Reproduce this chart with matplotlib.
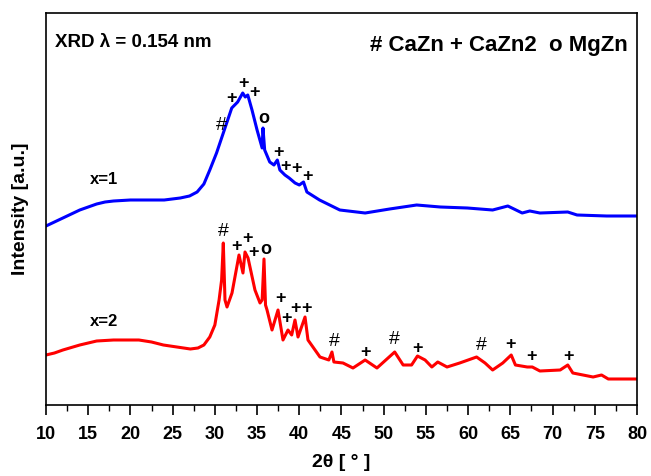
import matplotlib
matplotlib.use("Agg")
import matplotlib.pyplot as plt
from matplotlib.ticker import MultipleLocator
from matplotlib import font_manager

names = {f.name for f in font_manager.fontManager.ttflist}
narrow = 'Liberation Sans Narrow' if 'Liberation Sans Narrow' in names else 'Liberation Sans'

# 2theta (deg) and intensity (a.u.) for x=1 (blue)
theta1 = [10.0, 11.0, 12.0, 13.0, 14.0, 15.0, 16.0, 17.0, 18.0, 20.0, 22.0, 24.0, 25.9, 27.0,
          27.9, 28.7, 29.4, 30.2, 30.8, 31.4, 32.0, 32.7, 33.3, 33.6, 33.9, 34.4, 35.0, 35.6,
          35.7, 35.9, 36.5, 37.0, 37.4, 37.7, 38.3, 38.8, 39.5, 40.0, 40.5, 40.9, 42.4, 44.8,
          47.8, 50.7, 53.9, 56.7, 59.9, 62.9, 64.7, 66.4, 67.3, 68.5, 71.8, 72.9, 76.4, 80.0]
inten1 = [179, 183, 187, 191, 195, 198, 201, 203, 204, 205, 205, 205, 207, 209,
          213, 221, 235, 252, 267, 282, 297, 303, 312, 308, 310, 295, 275, 257,
          277, 255, 243, 240, 245, 235, 230, 227, 222, 220, 223, 213, 205, 195,
          192, 196, 200, 198, 197, 195, 199, 192, 194, 192, 193, 190, 189, 189]

# 2theta (deg) and intensity (a.u.) for x=2 (red)
theta2 = [10.0, 11.0, 12.0, 14.0, 16.0, 18.0, 19.6, 21.0, 22.5, 23.9, 25.5, 27.1, 28.0, 28.7,
          29.4, 30.0, 30.5, 30.8, 31.0, 31.2, 31.44, 32.03, 32.86, 33.33, 33.57, 33.93, 34.75,
          35.35, 35.6, 35.82, 36.0, 36.18, 36.77, 37.48, 38.07, 38.66, 39.1, 39.49, 39.85,
          40.68, 41.03, 42.45, 43.5, 43.87, 44.1, 45.18, 46.36, 47.8, 49.2, 51.3, 52.3, 53.3,
          54.0, 54.9, 55.7, 56.4, 57.5, 59.0, 61.0, 62.0, 62.9, 64.1, 65.1, 65.6, 67.0, 67.6,
          68.5, 70.9, 71.8, 72.4, 74.8, 75.8, 76.6, 80.0]
inten2 = [50, 52, 55, 60, 64, 65, 65, 65, 63, 60, 58, 56, 57, 60,
          68, 80, 105, 125, 162, 105, 98, 112, 150, 132, 153, 147, 115,
          102, 105, 146, 100, 95, 75, 95, 65, 75, 70, 85, 68,
          88, 65, 48, 45, 53, 43, 42, 37, 45, 37, 53, 40, 40,
          49, 45, 38, 43, 38, 42, 48, 42, 35, 42, 50, 40, 38, 38,
          34, 35, 40, 32, 28, 30, 26, 26]

# phase markers: (symbol, 2theta, height)
marks1 = [('#', 30.73, 280), ('+', 32.03, 307), ('+', 33.45, 322), ('+', 34.75, 313),
          ('o', 35.82, 287), ('+', 37.48, 252), ('+', 38.35, 238), ('+', 39.7, 237),
          ('+', 41.03, 228)]
marks2 = [('#', 30.96, 173), ('+', 32.62, 159), ('+', 33.81, 166), ('+', 34.52, 152),
          ('o', 36.06, 155), ('+', 37.72, 106), ('+', 38.45, 86), ('+', 39.6, 96),
          ('+', 40.85, 97), ('#', 44.11, 63), ('+', 47.9, 53), ('#', 51.22, 65),
          ('+', 54.06, 57), ('#', 61.52, 60), ('+', 65.07, 60), ('+', 67.56, 48),
          ('+', 71.83, 48)]

xticks = [10, 15, 20, 25, 30, 35, 40, 45, 50, 55, 60, 65, 70, 75, 80]

sym_style = {'+': dict(fontsize=13, fontweight='bold'),
             '#': dict(fontsize=14, fontweight='normal'),
             'o': dict(fontsize=13, fontweight='bold')}

fig = plt.figure(figsize=(6.51, 4.76), dpi=100)
ax = fig.add_axes([46/651, 1-405/476, 591/651, 392/476])

ax.plot(theta1, inten1, color='#0000ff', lw=2.2)
ax.plot(theta2, inten2, color='#ff0000', lw=2.2)

for sym, x, y in marks1 + marks2:
    ax.text(x, y, sym, ha='center', va='center', family='Liberation Sans', color='black',
            **sym_style[sym])

ax.text(16.87, 225, 'x=1', ha='center', va='center', fontsize=12, fontweight='bold',
        family='Liberation Sans')
ax.text(16.87, 83, 'x=2', ha='center', va='center', fontsize=12, fontweight='bold',
        family='Liberation Sans')

ax.text(0.015, 0.926, 'XRD λ = 0.154 nm', transform=ax.transAxes, ha='left', va='center',
        fontsize=13.5, fontweight='bold', family=[narrow, 'DejaVu Sans'])
ax.text(0.985, 0.918, '# CaZn + CaZn2  o MgZn', transform=ax.transAxes, ha='right', va='center',
        fontsize=16, fontweight='bold', family=[narrow, 'DejaVu Sans'])

ax.set_xlim(10, 80)
ax.set_ylim(0, 392)
ax.set_xticks(xticks)
ax.xaxis.set_minor_locator(MultipleLocator(2.5))
ax.set_yticks([])
ax.tick_params(axis='x', which='major', direction='out', length=7, width=1.2,
               top=False, labelsize=13, pad=8)
ax.tick_params(axis='x', which='minor', direction='out', length=4, width=1.0, top=False)
for lab in ax.get_xticklabels():
    lab.set_fontweight('bold')
    lab.set_family(narrow)
for sp in ax.spines.values():
    sp.set_linewidth(1.2)

ax.set_xlabel('2θ [ ° ]', fontsize=14, fontweight='bold', family=[narrow, 'DejaVu Sans'],
              labelpad=8)
ax.set_ylabel('Intensity [a.u.]', fontsize=14, fontweight='bold', family='Liberation Sans',
              labelpad=12)

fig.savefig('out.png', dpi=100)
